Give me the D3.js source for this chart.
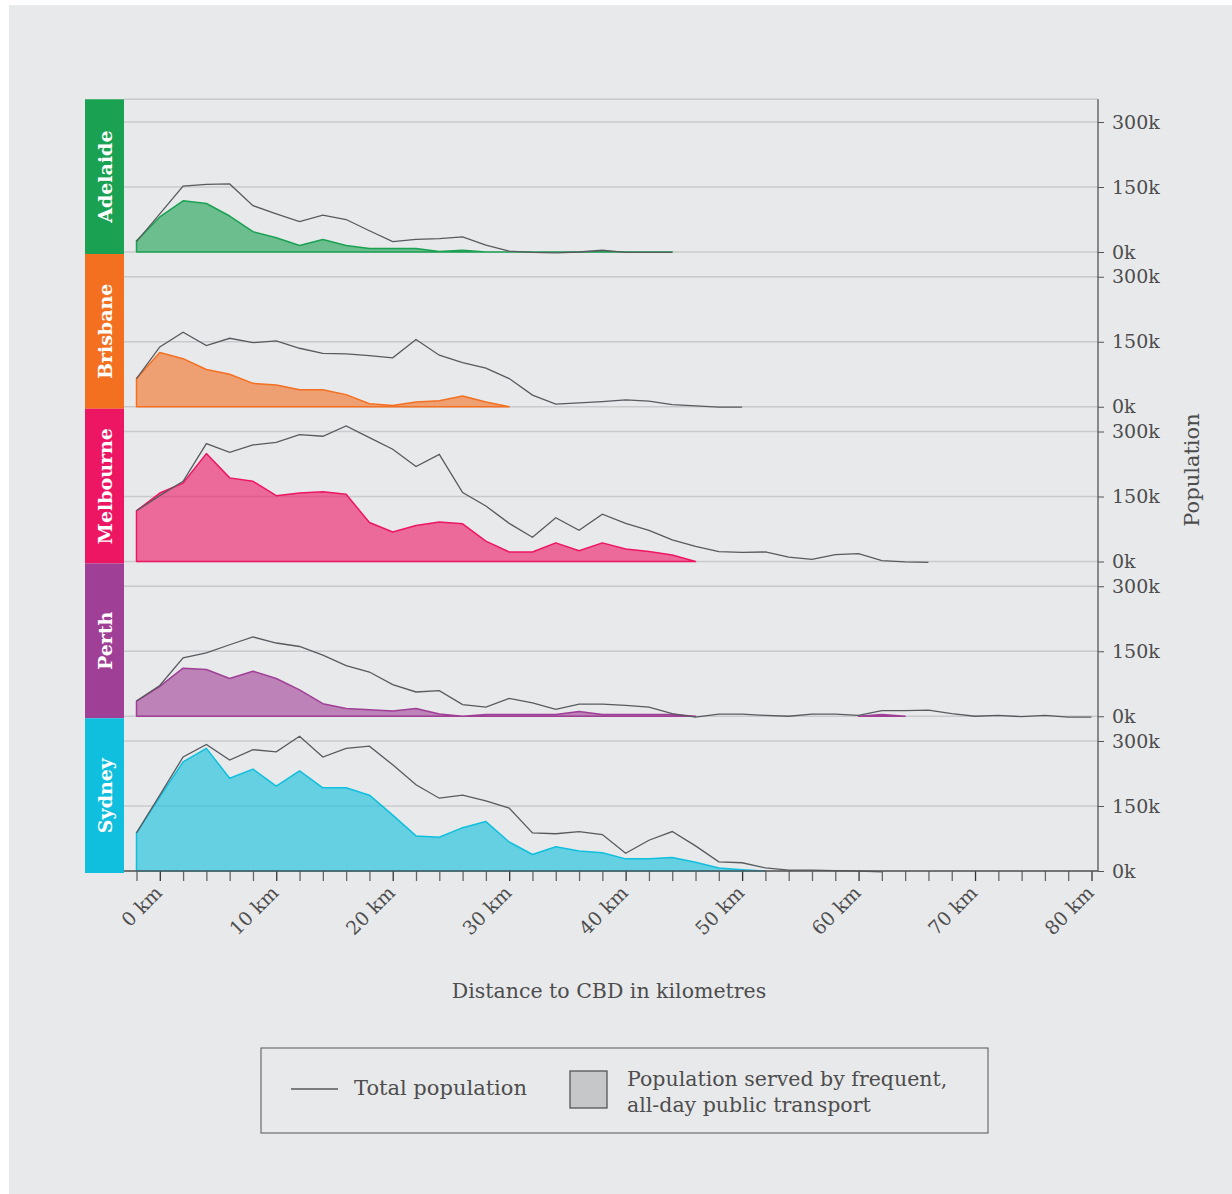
<!DOCTYPE html>
<html>
<head>
<meta charset="utf-8">
<script src="https://cdn.jsdelivr.net/npm/d3@7"></script>
<style>
  body { margin: 0; background: #fff; }
  text { font-family: "DejaVu Serif", serif; fill: #4d4d4d; }
</style>
</head>
<body>
<script>
// distance bins (km) along the x axis
var km = [-2, 0, 2, 4, 6, 8, 10, 12, 14, 16, 18, 20, 22, 24, 26, 28, 30, 32, 34, 36, 38,
          40, 42, 44, 46, 48, 50, 52, 54, 56, 58, 60, 62, 64, 66, 68, 70, 72, 74, 76, 78, 80];

var cities = ["Adelaide", "Brisbane", "Melbourne", "Perth", "Sydney"];
var cityColors = ["#1ba152", "#f37021", "#ed1663", "#a03f96", "#0fbfdd"];

// population in thousands
var adelaideTotal = [24, 88, 152, 156, 157, 107, 88, 70, 85, 75, 49, 24, 29, 31, 35, 16, 2, -1, -2, 0, 4, -1, -1, -1];
var adelaideServed = [26, 81, 118, 112, 83, 47, 33, 15, 29, 15, 8, 8, 8, 1, 4, 0, 0, 0, 0, 0, 1, 0, 0, 0];

var brisbaneTotal = [65, 138, 172, 141, 158, 148, 152, 135, 123, 122, 118, 113, 155, 119, 102, 89, 65, 27, 6, 9, 12, 16, 13, 5, 2, -1, -1];
var brisbaneServed = [65, 125, 111, 86, 75, 54, 50, 39, 39, 28, 7, 3, 11, 14, 25, 11, 0];

var melbourneTotal = [117, 152, 185, 272, 252, 269, 275, 293, 289, 313, 286, 259, 219, 247, 159, 128, 88, 56, 101, 72, 109, 88, 72, 50, 35, 23, 21, 22, 10, 5, 16, 18, 2, -1, -2];
var melbourneServed = [117, 158, 181, 249, 193, 185, 152, 158, 161, 155, 90, 68, 83, 91, 87, 47, 22, 22, 43, 25, 43, 29, 23, 15, 0];

var perthTotal = [35, 71, 135, 146, 165, 183, 169, 161, 141, 117, 102, 73, 56, 59, 27, 21, 41, 31, 16, 28, 28, 25, 21, 6, -2, 5, 5, 2, 0, 5, 5, 2, 13, 13, 14, 6, 0, 2, -1, 2, -2, -2];
var perthServed = [35, 69, 111, 108, 87, 104, 87, 61, 29, 18, 15, 12, 18, 5, 0, 4, 4, 4, 4, 11, 4, 4, 4, 4, 0,
                   null, null, null, null, null, null, 0, 4, 0];

var sydneyTotal = [88, 175, 263, 292, 256, 280, 275, 311, 263, 283, 288, 245, 199, 168, 175, 162, 145, 88, 86, 91, 84, 41, 71, 91, 58, 21, 19, 7, 2, 2, 1, 0, -2];
var sydneyServed = [88, 171, 252, 283, 214, 235, 196, 231, 192, 192, 175, 129, 81, 78, 100, 114, 67, 38, 56, 46, 42, 28, 28, 31, 20, 7, 3, 0];

var totals = [adelaideTotal, brisbaneTotal, melbourneTotal, perthTotal, sydneyTotal];
var served = [adelaideServed, brisbaneServed, melbourneServed, perthServed, sydneyServed];

var yTicks = [0, 150, 300];
var xLabelKm = [0, 10, 20, 30, 40, 50, 60, 70, 80];

var w = 1232, h = 1194;
var left = 124, right = 1098;
var firstBase = 252, panelH = 154.75, panelSpan = 130;

var svg = d3.select("body").append("svg")
  .attr("width", w).attr("height", h);

// grey card
svg.append("rect").attr("x", 9).attr("y", 5)
  .attr("width", w - 9).attr("height", h - 5).attr("fill", "#e8e9eb");

var x = d3.scaleLinear().domain([-2, 80]).range([136.5, 1091.5]);

// top border line
svg.append("line").attr("x1", left).attr("x2", right)
  .attr("y1", firstBase - panelH + 2).attr("y2", firstBase - panelH + 2)
  .attr("stroke", "#c9cacd").attr("stroke-width", 1.5);

cities.forEach(function(city, k) {
  var base = firstBase + k * panelH;
  var y = d3.scaleLinear().domain([0, 300]).range([base, base - panelSpan]);
  var g = svg.append("g");

  // gridlines
  g.selectAll("line.grid").data(yTicks).enter().append("line")
    .attr("x1", left).attr("x2", right)
    .attr("y1", function(d) { return y(d); })
    .attr("y2", function(d) { return y(d); })
    .attr("stroke", "#c9cacd").attr("stroke-width", 1.5);

  var area = d3.area()
    .defined(function(d) { return d != null; })
    .x(function(d, i) { return x(km[i]); })
    .y0(base)
    .y1(function(d) { return y(d); });

  g.append("path").datum(served[k])
    .attr("d", area)
    .attr("fill", cityColors[k]).attr("fill-opacity", 0.6)
    .attr("stroke", cityColors[k]).attr("stroke-width", 1.5)
    .attr("stroke-linejoin", "round");

  var line = d3.line()
    .x(function(d, i) { return x(km[i]); })
    .y(function(d) { return y(d); });

  g.append("path").datum(totals[k])
    .attr("d", line)
    .attr("fill", "none").attr("stroke", "#575a5e").attr("stroke-width", 1.3);

  // coloured city band
  var top = base - panelH + 2;
  svg.append("rect").attr("x", 85).attr("y", top)
    .attr("width", left - 85).attr("height", panelH)
    .attr("fill", cityColors[k]);
  svg.append("text")
    .attr("transform", "translate(" + 105 + "," + (top + panelH / 2) + ") rotate(-90)")
    .attr("text-anchor", "middle").attr("dominant-baseline", "central")
    .style("fill", "#fff").style("font-weight", "bold").style("font-size", "19px")
    .text(city);

  // right axis for this panel
  var yAxis = d3.axisRight(y).tickValues(yTicks).tickSize(6).tickPadding(8)
    .tickFormat(function(d) { return d + "k"; });
  var ga = svg.append("g").attr("transform", "translate(" + right + ",0)").call(yAxis);
  ga.select(".domain").remove();
  ga.selectAll(".tick line").attr("stroke", "#555");
  ga.selectAll(".tick text").style("font-size", "19px").style("font-family", "DejaVu Serif").attr("fill", "#4d4d4d");
});

var lastBase = firstBase + 4 * panelH;

// y axis line
svg.append("line").attr("x1", right).attr("x2", right)
  .attr("y1", firstBase - panelH + 2).attr("y2", lastBase)
  .attr("stroke", "#555").attr("stroke-width", 1.3);

// x axis
var xAxis = d3.axisBottom(x).tickValues(km).tickSize(10)
  .tickFormat(function(d) { return xLabelKm.indexOf(d) >= 0 ? d + " km" : ""; });
var gx = svg.append("g").attr("transform", "translate(0," + lastBase + ")").call(xAxis);
gx.select(".domain").remove();
gx.selectAll(".tick line")
  .attr("stroke", function(d) { return xLabelKm.indexOf(d) >= 0 ? "#333" : "#666"; })
  .attr("stroke-width", 1.3);
gx.selectAll(".tick text")
  .style("font-size", "19px").style("font-family", "DejaVu Serif").attr("fill", "#4d4d4d")
  .attr("text-anchor", "end")
  .attr("transform", "translate(3,23) rotate(-45)")
  .attr("x", 0).attr("y", 0).attr("dy", "0");
svg.append("line").attr("x1", left).attr("x2", right)
  .attr("y1", lastBase).attr("y2", lastBase)
  .attr("stroke", "#555").attr("stroke-width", 1.5);

// axis titles
svg.append("text").attr("x", 609).attr("y", 998)
  .attr("text-anchor", "middle").style("font-size", "20.5px")
  .text("Distance to CBD in kilometres");
svg.append("text")
  .attr("transform", "translate(1199,470) rotate(-90)")
  .attr("text-anchor", "middle").style("font-size", "21px")
  .text("Population");

// legend
var lg = svg.append("g");
lg.append("rect").attr("x", 261).attr("y", 1048).attr("width", 727).attr("height", 85)
  .attr("fill", "none").attr("stroke", "#555").attr("stroke-width", 1);
lg.append("line").attr("x1", 291).attr("x2", 338).attr("y1", 1089).attr("y2", 1089)
  .attr("stroke", "#575a5e").attr("stroke-width", 1.3);
lg.append("text").attr("x", 354).attr("y", 1095).style("font-size", "21px").text("Total population");
lg.append("rect").attr("x", 570).attr("y", 1071).attr("width", 37).attr("height", 37)
  .attr("fill", "#c6c7c9").attr("stroke", "#555").attr("stroke-width", 1.3);
lg.append("text").attr("x", 627).attr("y", 1086).style("font-size", "20.5px").text("Population served by frequent,");
lg.append("text").attr("x", 627).attr("y", 1112).style("font-size", "20.5px").text("all-day public transport");
</script>
</body>
</html>
